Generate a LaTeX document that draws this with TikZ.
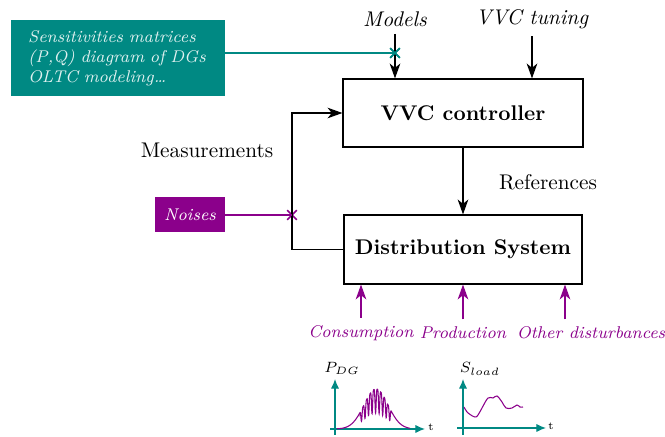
\documentclass[tikz,border=0pt]{standalone}
\usepackage{amsmath}
\usetikzlibrary{arrows.meta, positioning, shapes.misc}
\definecolor{vvcteal}{RGB}{0, 137, 131}
\definecolor{vvcpurple}{RGB}{139, 0, 139}
\newlength{\px}
\setlength{\px}{0.4706pt}

\begin{document}
\begin{tikzpicture}[x=0.4706pt, y=-0.4706pt,
  block/.style={draw, line width=0.55pt, font=\bfseries, minimum width=240\px, minimum height=68\px},
  tag/.style={fill=#1, text=white, font=\footnotesize\itshape, inner sep=0pt},
  dist/.style={text=vvcpurple, font=\footnotesize\itshape},
  arr/.style={-{Stealth[length=7pt, width=5pt, inset=2pt]}, line width=0.55pt},
  xmark/.style={draw=#1, cross out, line width=0.8pt, minimum size=8\px, inner sep=0pt},
  axis/.style={draw=vvcteal, -{Latex[length=4.5pt, width=3.8pt]}, line width=0.5pt}]
  \useasboundingbox (0,0) rectangle (665,437);

  % blocks
  \node[block] (vvc) at (463,113) {VVC controller};
  \node[block, minimum width=238\px, minimum height=69\px] (ds) at (463,249.5) {Distribution System};

  % inputs of the controller
  \node[tag=vvcteal, text=white!88!vvcteal, text width=180\px, align=left,
        minimum height=76\px, inner xsep=17\px] (info) at (118,58)
        {Sensitivities matrices\\(P,Q) diagram of DGs\\OLTC modeling\dots};
  \node[font=\itshape] (models) at (395,19) {Models};
  \node[font=\itshape] (tuning) at (532,19) {VVC tuning};
  \node[xmark=vvcteal] (mx) at (395,53) {};
  \draw[arr] (models.south) -- (models |- vvc.north);
  \draw[arr] (tuning.south) -- (tuning |- vvc.north);
  \draw[vvcteal, line width=0.6pt] (info.east |- mx) -- (mx.center);
  \node[xmark=vvcteal] at (mx) {};

  % loop
  \node (refs) at (548,182) {References};
  \node (meas) at (207,150) {Measurements};
  \node[tag=vvcpurple, minimum width=70\px, minimum height=35\px] (noise) at (190,215) {Noises};
  \node[xmark=vvcpurple] (nx) at (292,215) {};
  \draw[arr] (vvc) -- (ds);
  \draw[arr] (ds.west) -| (nx.center) |- (vvc.west);
  \draw[vvcpurple, line width=0.6pt] (noise.east) -- (nx.center);

  % disturbances
  \node[dist] (cons) at (361,333) {Consumption};
  \node[dist] (prod) at (463,333) {Production};
  \node[dist] (other) at (591,333) {Other disturbances};
  \draw[arr, vvcpurple] (cons) -- (cons |- ds.south);
  \draw[arr, vvcpurple] (prod) -- (prod |- ds.south);
  \draw[arr, vvcpurple] ([xshift=-26\px]other.north) -- ([xshift=-26\px]other.north |- ds.south);

  % small charts
  \draw[axis] (330,429) -- (425,429);
  \draw[axis] (335,435) -- (335,379);
  \node[font=\tiny] (t1) at (431,427) {t};
  \node[font=\scriptsize] (pdg) at (342,368) {$P_{DG}$};
  \draw[vvcpurple, line width=0.5pt] plot[domain=337:410, samples=500]
    (\x, {429 - 40*exp(-((\x-376)/17)^2)*(1 - 0.6*(\x>359)*(\x<392)*abs(sin(51*(\x-335)))^4)});

  \draw[axis] (457,428) -- (546,428);
  \draw[axis] (463,435) -- (463,379);
  \node[font=\tiny] (t2) at (551,426) {t};
  \node[font=\scriptsize] (sload) at (480,369) {$S_{load}$};
  \draw[vvcpurple, line width=0.5pt] plot[smooth, tension=0.6] coordinates
    {(464,407) (468,413) (475,417) (478,415) (482,408) (488,398) (493,398) (497,396)
     (502,402) (506,408) (512,408) (517,405) (520,407) (523,407)};
\end{tikzpicture}
\end{document}
